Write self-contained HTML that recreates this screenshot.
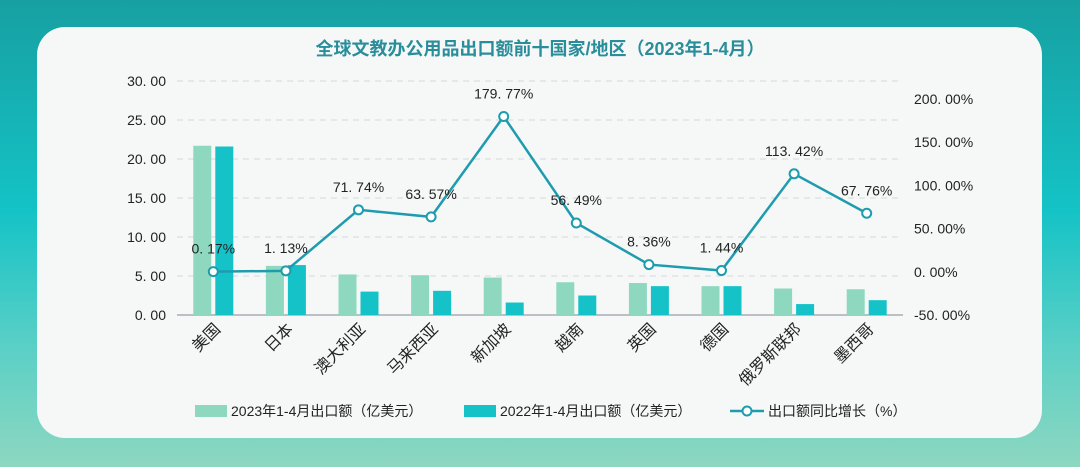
<!DOCTYPE html>
<html><head><meta charset="utf-8"><style>
html,body{margin:0;padding:0}
body{width:1080px;height:467px;overflow:hidden;background:linear-gradient(180deg,#17a0a2 0%,#14c3c6 45%,#5cd0c6 75%,#8dd7c0 100%);font-family:"Liberation Sans","Noto Sans CJK SC",sans-serif}
#card{position:absolute;left:37px;top:27px;width:1005px;height:411px;background:#f6f8f8;border-radius:28px}
svg{position:absolute;left:0;top:0}
</style></head><body>
<div id="card"></div>
<svg id="chart" width="1080" height="467">
<text x="540" y="55" text-anchor="middle" font-size="18" font-weight="bold" fill="#2a8e9a">全球文教办公用品出口额前十国家/地区（2023年1-4月）</text>
</svg>
<script>
const categories=["美国","日本","澳大利亚","马来西亚","新加坡","越南","英国","德国","俄罗斯联邦","墨西哥"];
const exports2023=[21.7,6.3,5.2,5.1,4.8,4.2,4.1,3.7,3.4,3.3];
const exports2022=[21.6,6.4,3.0,3.1,1.6,2.5,3.7,3.7,1.4,1.9];
const growth=[0.17,1.13,71.74,63.57,179.77,56.49,8.36,1.44,113.42,67.76];
const leftTicks=[0,5,10,15,20,25,30];
const rightTicks=[-50,0,50,100,150,200];
const svg=document.getElementById('chart');
const NS='http://www.w3.org/2000/svg';
function mk(t,a,p){const e=document.createElementNS(NS,t);for(const k in a)e.setAttribute(k,a[k]);(p||svg).appendChild(e);return e;}
const x0=177,x1=903,yb=315,yt=81,yR0=315,yR1=99;
const step=(x1-x0)/categories.length;
const xc=i=>x0+step*(i+0.5);
const yL=v=>yb-(v/30)*(yb-yt);
const yR=v=>yR0-((v+50)/250)*(yR0-yR1);
leftTicks.forEach(v=>{
  if(v>0){const g=mk('line',{x1:x0,x2:x1,y1:yL(v),y2:yL(v),stroke:'#d9dde0','stroke-width':1.2,'stroke-dasharray':'6,5'});
  
  }
  const t=mk('text',{x:166,y:yL(v)+5,'text-anchor':'end','font-size':14,fill:'#222'});
  t.textContent=v.toFixed(2).replace('.','. ');
  
  
});
rightTicks.forEach(v=>{
  const t=mk('text',{x:914,y:yR(v)+5,'font-size':14,fill:'#222'});
  t.textContent=v.toFixed(2).replace('.','. ')+'%';
  
  
});
const ax=mk('line',{x1:x0,x2:x1,y1:yb,y2:yb,stroke:'#a8acb4','stroke-width':1.5});


const bw=18;
categories.forEach((c,i)=>{
  const b1=mk('rect',{x:xc(i)-bw-2,y:yL(exports2023[i]),width:bw,height:yb-yL(exports2023[i]),fill:'#8ed8c0'});
  
  
  const b2=mk('rect',{x:xc(i)+2,y:yL(exports2022[i]),width:bw,height:yb-yL(exports2022[i]),fill:'#14c2c8'});
  
  
  const t=mk('text',{x:0,y:0,'text-anchor':'end','font-size':16,fill:'#222',transform:`translate(${xc(i)+8},${yb+15}) rotate(-45)`});
  t.textContent=c;
  
  
});
const pts=growth.map((v,i)=>xc(i)+','+yR(v)).join(' ');
const pl=mk('polyline',{points:pts,fill:'none',stroke:'#1e9cae','stroke-width':2.5});


growth.forEach((v,i)=>{
  const c=mk('circle',{cx:xc(i),cy:yR(v),r:4.5,fill:'#fff',stroke:'#1e9cae','stroke-width':2});
  
  
  const t=mk('text',{x:xc(i),y:yR(v)-18,'text-anchor':'middle','font-size':14,fill:'#222'});
  t.textContent=v.toFixed(2).replace('.','. ')+'%';
  
  
});
const lg=mk('g',{});


const l1=mk('rect',{x:195,y:405,width:32,height:12,fill:'#8ed8c0'},lg);


const t1=mk('text',{x:231,y:416,'font-size':14,fill:'#222'},lg);t1.textContent='2023年1-4月出口额（亿美元）';


const l2=mk('rect',{x:464,y:405,width:32,height:12,fill:'#14c2c8'},lg);


const t2=mk('text',{x:500,y:416,'font-size':14,fill:'#222'},lg);t2.textContent='2022年1-4月出口额（亿美元）';


const l3=mk('line',{x1:730,x2:764,y1:411,y2:411,stroke:'#1e9cae','stroke-width':2.5},lg);


const l4=mk('circle',{cx:747,cy:411,r:4.5,fill:'#fff',stroke:'#1e9cae','stroke-width':2},lg);


const t3=mk('text',{x:768,y:416,'font-size':14,fill:'#222'},lg);t3.textContent='出口额同比增长（%）';


</script>
</body></html>
